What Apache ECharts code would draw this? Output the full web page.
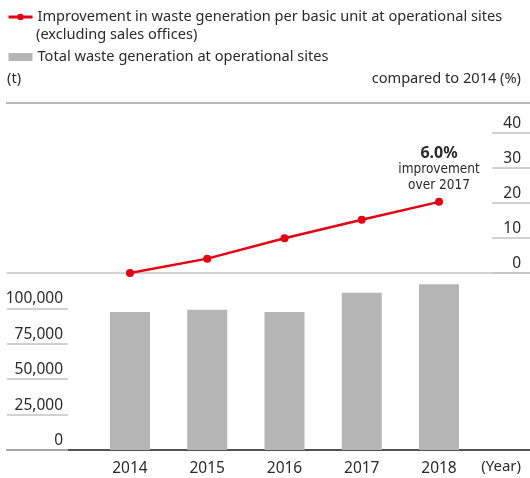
<!DOCTYPE html>
<html>
<head>
<meta charset="utf-8">
<script src="https://cdn.jsdelivr.net/npm/echarts@6/dist/echarts.min.js"></script>
<style>
  html, body { margin: 0; padding: 0; background: #fff; }
  #chart { width: 530px; height: 478px; }
</style>
</head>
<body>
<div id="chart"></div>
<script>
// data
const years = [2014, 2015, 2016, 2017, 2018];
const wasteTotal = [97500, 99000, 97500, 111000, 117000];   // t
const improvement = [0, 4.1, 9.9, 15.2, 20.3];              // % vs 2014
const leftTicks = [0, 25000, 50000, 75000, 100000];
const rightTicks = [0, 10, 20, 30, 40];
const lineName = "Improvement in waste generation per basic unit at operational sites";
const barName = "Total waste generation at operational sites";
const noteLines = ["6.0%", "improvement", "over 2017"];

const RED = "#e60012";
const GREY_BAR = "#b4b5b4";
const TEXT = "#2a2a2a";
const RULE = "#c4c4c4";
const HEADER_RULE = "#b8b8b8";
const FONT = "'Noto Sans', sans-serif";
const NARROW = "'DejaVu Sans Condensed', 'Liberation Sans Narrow', sans-serif";

// x range so that 2014..2018 land on the bar centres and the rules span the full width
const xMin = 2012.408;
const xMax = 2019.178;

const chart = echarts.init(document.getElementById("chart"), null, { renderer: "canvas" });

const plainX = (grid, color) => ({
    type: "value",
    gridIndex: grid,
    position: "bottom",
    min: xMin,
    max: xMax,
    axisLine: { show: true, onZero: false, lineStyle: { color: color, width: 1.5 } },
    axisTick: { show: false },
    axisLabel: { show: false },
    splitLine: { show: false }
});

const option = {
    animation: false,
    textStyle: { fontFamily: FONT, color: TEXT },
    legend: {
        orient: "vertical",
        left: 7,
        top: 7,
        padding: 0,
        itemGap: 20,
        itemWidth: 24,
        itemHeight: 8,
        textStyle: { fontSize: 14.6, color: TEXT, fontFamily: FONT, lineHeight: 20 },
        data: [
            { name: lineName, itemStyle: { color: RED }, lineStyle: { width: 3, color: RED } },
            { name: barName, icon: "rect" }
        ]
    },
    graphic: {
        elements: [
            { type: "text", x: 36, y: 27, style: { text: "(excluding sales offices)", fontSize: 14.6, fontFamily: FONT, fill: TEXT } },
            { type: "text", x: 7, y: 71, style: { text: "(t)", fontSize: 14.6, fontFamily: FONT, fill: TEXT } },
            { type: "text", x: 521, y: 71, style: { text: "compared to 2014 (%)", align: "right", fontSize: 14.6, fontFamily: FONT, fill: TEXT } },
            { type: "text", x: 521, y: 459, style: { text: "(Year)", align: "right", fontSize: 15, fontFamily: FONT, fill: TEXT } },
            // header rule under the unit labels
            { type: "rect", x: 6, y: 102, shape: { x: 0, y: 0, width: 524, height: 2 }, style: { fill: HEADER_RULE }, z: 100 }
        ]
    },
    grid: [
        { left: 7, right: 0, top: 103, height: 170 },
        { left: 7, right: 0, top: 273, height: 177 }
    ],
    xAxis: [
        plainX(0, RULE),
        Object.assign(plainX(1, "#1a1a1a"), {
            axisLabel: {
                show: true,
                customValues: years,
                margin: 11,
                fontSize: 15.5,
                color: TEXT,
                formatter: (v) => String(v)
            }
        })
    ],
    yAxis: [
        {
            type: "value",
            gridIndex: 0,
            position: "right",
            min: 0,
            max: 48.5,
            axisLine: { show: false },
            splitLine: { show: false },
            axisTick: { show: true, inside: true, length: 38, customValues: rightTicks, lineStyle: { color: RULE, width: 1.5 } },
            axisLabel: {
                inside: true,
                align: "right",
                verticalAlign: "bottom",
                margin: 9,
                lineHeight: 19,
                fontSize: 15.5,
                color: TEXT,
                customValues: rightTicks
            }
        },
        {
            type: "value",
            gridIndex: 1,
            position: "left",
            min: 0,
            max: 125000,
            axisLine: { show: false },
            splitLine: { show: false },
            axisTick: { show: true, inside: true, length: 61, customValues: leftTicks, lineStyle: { color: RULE, width: 1.5 } },
            axisLabel: {
                inside: true,
                align: "right",
                verticalAlign: "bottom",
                margin: 56,
                lineHeight: 19,
                fontSize: 15.5,
                color: TEXT,
                customValues: leftTicks,
                formatter: (v) => v.toLocaleString("en-US")
            }
        }
    ],
    series: [
        {
            name: barName,
            type: "bar",
            xAxisIndex: 1,
            yAxisIndex: 1,
            barWidth: 40,
            itemStyle: { color: GREY_BAR },
            data: years.map((y, i) => [y, wasteTotal[i]])
        },
        {
            name: lineName,
            type: "line",
            xAxisIndex: 0,
            yAxisIndex: 0,
            symbol: "circle",
            symbolSize: 8,
            lineStyle: { color: RED, width: 2.5 },
            itemStyle: { color: RED },
            z: 5,
            data: years.map((y, i) => {
                const pt = { value: [y, improvement[i]] };
                if (i === years.length - 1) {
                    pt.label = {
                        show: true,
                        position: "top",
                        distance: 4,
                        align: "center",
                        formatter: "{b|" + noteLines[0] + "}\n{n|" + noteLines[1] + "}\n{n|" + noteLines[2] + "}",
                        rich: {
                            b: { fontSize: 16, fontWeight: "bold", fontFamily: FONT, color: TEXT, lineHeight: 17, align: "center" },
                            n: { fontSize: 13.5, fontFamily: NARROW, color: TEXT, lineHeight: 16, align: "center" }
                        }
                    };
                }
                return pt;
            })
        }
    ]
};

chart.setOption(option);
</script>
</body>
</html>
